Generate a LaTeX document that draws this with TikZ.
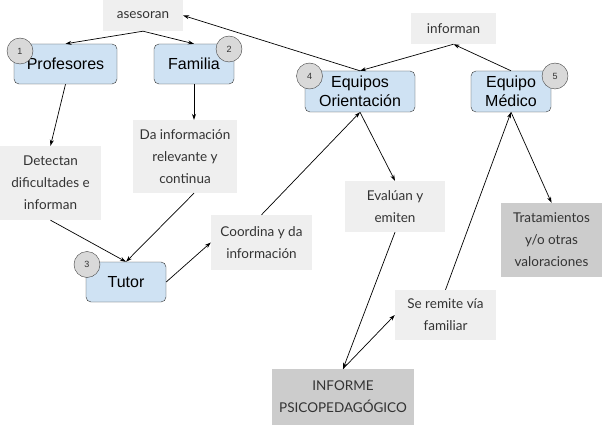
\documentclass[tikz,border=0pt]{standalone}
\usepackage{fontspec}
\setmainfont{Lato}
\newfontfamily\cajafont{Liberation Sans}
\usetikzlibrary{arrows.meta}
\definecolor{azul}{HTML}{CFE2F3}
\definecolor{grisclaro}{HTML}{EFEFEF}
\definecolor{grisoscuro}{HTML}{CCCCCC}
\definecolor{circulo}{HTML}{D9D9D9}
\definecolor{texto}{HTML}{333333}
\begin{document}
\begin{tikzpicture}[x=1pt, y=-1pt, >={Stealth[length=6pt,width=4pt]},
    caja/.style={draw=black!80, fill=azul, rounded corners=5pt, inner sep=0pt,
        align=center, font=\cajafont\fontsize{16}{19}\selectfont},
    etiqueta/.style={fill=grisclaro, inner sep=0pt, align=center, text=texto,
        font=\fontsize{13.5}{22}\selectfont},
    resultado/.style={etiqueta, fill=grisoscuro},
    numero/.style={circle, draw=black!75, fill=circulo, minimum size=26pt, inner sep=0pt,
        text=texto, font=\cajafont\fontsize{9}{9}\selectfont},
    flecha/.style={->, line width=0.7pt}]
    \useasboundingbox (0,0) rectangle (602,425);

    % Agentes
    \node[caja, minimum width=103pt, minimum height=40pt] (prof) at (65.5,64) {Profesores};
    \node[caja, minimum width=80pt, minimum height=40pt] (fam) at (194,64) {Familia};
    \node[caja, minimum width=80pt, minimum height=40pt] (tutor) at (126,282) {Tutor};
    \node[caja, minimum width=110pt, minimum height=41pt] (eo) at (360,91.5) {Equipos\\Orientación};
    \node[caja, minimum width=80pt, minimum height=41pt] (em) at (511,91.5) {Equipo\\Médico};

    % Números
    \node[numero] (n1) at (20,51) {1};
    \node[numero] (n2) at (229,49) {2};
    \node[numero] (n3) at (87,264.5) {3};
    \node[numero] (n4) at (309.5,76) {4};
    \node[numero] (n5) at (555,76) {5};

    % Acciones
    \node[etiqueta, minimum width=80pt, minimum height=31pt] (aseso) at (143,15.5) {asesoran};
    \node[etiqueta, minimum width=85pt, minimum height=31pt] (infor) at (453.5,28.5) {informan};
    \node[etiqueta, minimum width=101pt, minimum height=74pt] (detec) at (50.5,183) {Detectan\\dificultades e\\informan};
    \node[etiqueta, minimum width=104pt, minimum height=73pt] (dainf) at (185,156.5) {Da información\\relevante y\\continua};
    \node[etiqueta, minimum width=101pt, minimum height=55pt] (coord) at (261.5,242.5) {Coordina y da\\información};
    \node[etiqueta, minimum width=100pt, minimum height=51pt] (eval) at (395,206.5) {Evalúan y\\emiten};
    \node[etiqueta, minimum width=101pt, minimum height=50pt] (remite) at (445.5,315) {Se remite vía\\familiar};

    % Resultados
    \node[resultado, minimum width=101pt, minimum height=74pt] (trat) at (551.5,240) {Tratamientos\\y/o otras\\valoraciones};
    \node[resultado, minimum width=142pt, minimum height=56pt] (inf) at (343,397) {INFORME\\PSICOPEDAGÓGICO};

    % Flechas
    \draw[flecha] (aseso.south) -- (prof.north);
    \draw[flecha] (aseso.south) -- (fam.north);
    \draw[flecha] (eo.north) -- (aseso.east);
    \draw[flecha] (infor.south) -- (eo.north);
    \draw[flecha] (em.north) -- (infor.south);
    \draw[flecha] (prof.south) -- (detec.north);
    \draw[flecha] (fam.south) -- (fam.south |- dainf.north);
    \draw[flecha] (detec.south) -- (tutor.north);
    \draw[flecha] (fam.south |- dainf.south) -- (tutor.north);
    \draw[flecha] (tutor.east) -- (coord.west);
    \draw[flecha] (coord.north) -- (eo.south);
    \draw[flecha] (eo.south) -- (eval.north);
    \draw[flecha] (eval.south) -- (inf.north);
    \draw[flecha] (inf.north) -- (remite.west);
    \draw[flecha] (remite.north) -- (em.south);
    \draw[flecha] (em.south) -- (trat.north);
\end{tikzpicture}
\end{document}
